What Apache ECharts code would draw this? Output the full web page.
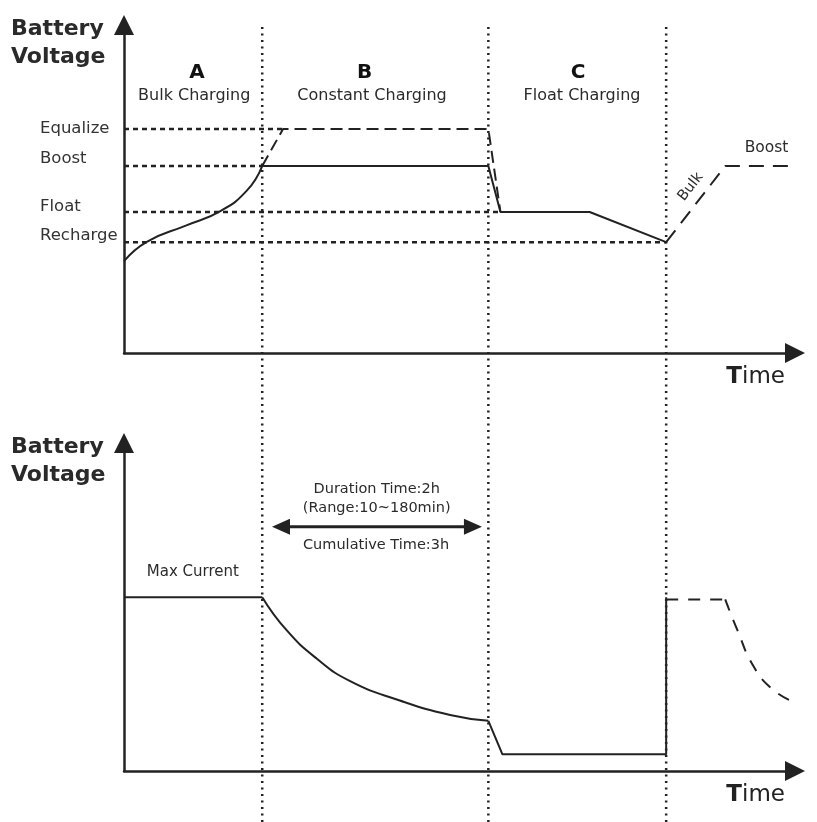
<!DOCTYPE html>
<html>
<head>
<meta charset="utf-8">
<title>Battery charging stages</title>
<script src="https://cdn.jsdelivr.net/npm/echarts@6/dist/echarts.min.js"></script>
<style>
    html, body {margin: 0; padding: 0; background: #fff;}
    #chart {width: 817px; height: 822px;}
</style>
</head>
<body>
<div id="chart"></div>
<script>
// stages on the time axis (0..100)
let phaseBounds = [20.6, 54.3, 80.8];
let phaseLetters = ['A', 'B', 'C'];
let phaseNames = ['Bulk Charging', 'Constant Charging', 'Float Charging'];

// voltage set points of the upper chart (0..100)
let levelNames = ['Equalize', 'Boost', 'Float', 'Recharge'];
let levelValues = [68.3, 57, 43, 33.8];
let levelEnds = [23.7, 20.6, 56.1, 80.8];

// upper chart: battery voltage
let riseX = [0, 3.4, 9.3, 14.3, 18.3, 20.6];
let riseY = [28, 33.9, 38.9, 43.2, 49.5, 57];
let holdX = [20.6, 54.3, 56.1, 69.4, 80.8];
let holdY = [57, 57, 43, 43, 33.8];
let equalizeX = [20.6, 23.7, 54.3, 56.1];
let equalizeY = [57, 68.3, 68.3, 43];
let rechargeX = [80.8, 89.6, 102.2];
let rechargeY = [33.8, 57, 57];

// lower chart: charging current
let flatX = [0, 20.6];
let flatY = [53, 53];
let decayX = [20.6, 24.2, 28.7, 33.7, 41.1, 48.6, 54.3];
let decayY = [53, 43, 34.3, 27.4, 21.5, 17.1, 15.3];
let floatX = [54.3, 56.4, 80.8, 80.8];
let floatY = [15.3, 5.1, 5.1, 53];
let holdAgainX = [80.8, 89.6];
let holdAgainY = [52.3, 52.3];
let fallAgainX = [89.6, 91.4, 93.8, 96.6, 99.7];
let fallAgainY = [52.3, 43, 32, 25, 21.1];

// duration arrow (arrow head centres) and its texts
let spanX = [23.4, 52.0];
let spanY = 74.5;
let spanTexts = ['Duration Time:2h\n(Range:10~180min)', 'Cumulative Time:3h'];

let INK = '#222';
let TEXT = '#2b2b2b';
let FONT = "'DejaVu Sans', sans-serif";

function pairs(xs, ys) {
    return xs.map(function (x, i) {
        return [x, ys[i]];
    });
}

function line(grid, data, width, type, smooth) {
    return {
        type: 'line',
        xAxisIndex: grid,
        yAxisIndex: grid,
        data: data,
        symbol: 'none',
        smooth: smooth || false,
        silent: true,
        clip: false,
        lineStyle: {color: INK, width: width, type: type || 'solid'}
    };
}

function texts(grid, items) {
    return {
        type: 'scatter',
        xAxisIndex: grid,
        yAxisIndex: grid,
        symbolSize: 0.5,
        silent: true,
        clip: false,
        itemStyle: {color: '#fff', opacity: 1},
        label: {
            show: true,
            position: [0, 0],
            align: 'center',
            verticalAlign: 'middle',
            formatter: '{b}',
            color: TEXT,
            opacity: 1,
            fontFamily: FONT,
            fontSize: 16
        },
        data: items
    };
}

function xAxisFor(grid) {
    return {
        type: 'value',
        gridIndex: grid,
        min: 0,
        max: 100,
        axisLine: {
            show: true,
            symbol: ['none', 'triangle'],
            symbolSize: [20, 20],
            lineStyle: {color: INK, width: 2.5}
        },
        axisTick: {show: false},
        axisLabel: {show: false},
        splitLine: {show: false},
        name: '{b|T}ime',
        nameLocation: 'end',
        nameGap: -10,
        nameTextStyle: {
            color: INK,
            fontFamily: FONT,
            fontSize: 23,
            align: 'right',
            verticalAlign: 'top',
            padding: [13, 0, 0, 0],
            rich: {b: {fontFamily: FONT, fontSize: 23, fontWeight: 'bold', color: INK}}
        }
    };
}

function yAxisFor(grid) {
    return {
        type: 'value',
        gridIndex: grid,
        min: 0,
        max: 100,
        axisLine: {
            show: true,
            symbol: ['none', 'triangle'],
            symbolSize: [20, 20],
            lineStyle: {color: INK, width: 2.5}
        },
        axisTick: {show: false},
        axisLabel: {show: false},
        splitLine: {show: false}
    };
}

// level names sit slightly above their dotted lines
let levelShift = [0, 14, 10, 12];
let levelRich = {};
levelNames.forEach(function (n, i) {
    levelRich['l' + i] = {
        fontFamily: FONT, fontSize: 16.5, color: '#333',
        padding: [0, 0, levelShift[i], 0]
    };
});

let topY = yAxisFor(0);
topY.axisLabel = {
    show: true,
    customValues: levelValues,
    margin: 84,
    align: 'left',
    formatter: function (v) {
        let best = 0;
        levelValues.forEach(function (lv, i) {
            if (Math.abs(lv - v) < Math.abs(levelValues[best] - v)) best = i;
        });
        return '{l' + best + '|' + levelNames[best] + '}';
    },
    rich: levelRich
};

let series = [];

// dashed set point lines
levelValues.forEach(function (v, i) {
    series.push(line(0, [[0, v], [levelEnds[i], v]], 2.5, [5, 4]));
});
series.push(line(0, pairs(riseX, riseY), 2, 'solid', 0.5));
series.push(line(0, pairs(holdX, holdY), 2));
series.push(line(0, pairs(equalizeX, equalizeY), 2, [12, 6]));
series.push(line(0, pairs(rechargeX, rechargeY), 2, [15, 9]));

// top annotations
let letterX = [10.9, 35.9, 67.7];
let nameX = [10.5, 37.0, 68.3];
let topItems = [];
phaseLetters.forEach(function (t, i) {
    topItems.push({name: t, value: [letterX[i], 85.5], label: {fontSize: 20, fontWeight: 'bold', color: '#111'}});
    topItems.push({name: phaseNames[i], value: [nameX[i], 78.4]});
});
topItems.push({name: 'Boost', value: [95.8, 62.5], label: {fontSize: 15.5}});
topItems.push({name: 'Bulk', value: [84.5, 50.6], label: {fontSize: 14.5, rotate: 52}});
series.push(texts(0, topItems));

// lower chart
series.push(line(1, pairs(flatX, flatY), 2));
series.push(line(1, pairs(decayX, decayY), 2, 'solid', 0.5));
series.push(line(1, pairs(floatX, floatY), 2));
series.push(line(1, pairs(holdAgainX, holdAgainY), 2, [12, 10]));
series.push(line(1, pairs(fallAgainX, fallAgainY), 2, [12, 10], 0.5));

let arrow = line(1, [
    {value: [spanX[0], spanY], symbolRotate: 90},
    {value: [spanX[1], spanY], symbolRotate: -90}
], 3);
arrow.symbol = 'triangle';
arrow.symbolSize = [16, 18];
arrow.showSymbol = true;
arrow.itemStyle = {color: INK};
series.push(arrow);

series.push(texts(1, [
    {name: 'Max Current', value: [10.3, 60.7], label: {fontSize: 15}},
    {name: spanTexts[0], value: [37.7, 82.8], label: {fontSize: 14.5, lineHeight: 19}},
    {name: spanTexts[1], value: [37.6, 68.9], label: {fontSize: 14.5}}
]));

// stage separators run through both charts
phaseBounds.forEach(function (b) {
    series.push(line(2, [[b, 0], [b, 1]], 2.5, [2, 4.5]));
});

let option = {
    animation: false,
    backgroundColor: '#fff',
    title: [
        {text: 'Battery\nVoltage', left: 11, top: 15, padding: 0,
            textStyle: {fontFamily: FONT, fontSize: 22, fontWeight: 'bold', lineHeight: 28, color: '#2a2a2a'}},
        {text: 'Battery\nVoltage', left: 11, top: 433, padding: 0,
            textStyle: {fontFamily: FONT, fontSize: 22, fontWeight: 'bold', lineHeight: 28, color: '#2a2a2a'}}
    ],
    grid: [
        {left: 124, right: 22, top: 25, bottom: 469},
        {left: 124, right: 22, top: 443, bottom: 51},
        {left: 124, right: 22, top: 26, bottom: 0}
    ],
    xAxis: [xAxisFor(0), xAxisFor(1), {type: 'value', gridIndex: 2, min: 0, max: 100, show: false}],
    yAxis: [topY, yAxisFor(1), {type: 'value', gridIndex: 2, min: 0, max: 1, show: false}],
    series: series
};

let chart = echarts.init(document.getElementById('chart'));
chart.setOption(option);
</script>
</body>
</html>
